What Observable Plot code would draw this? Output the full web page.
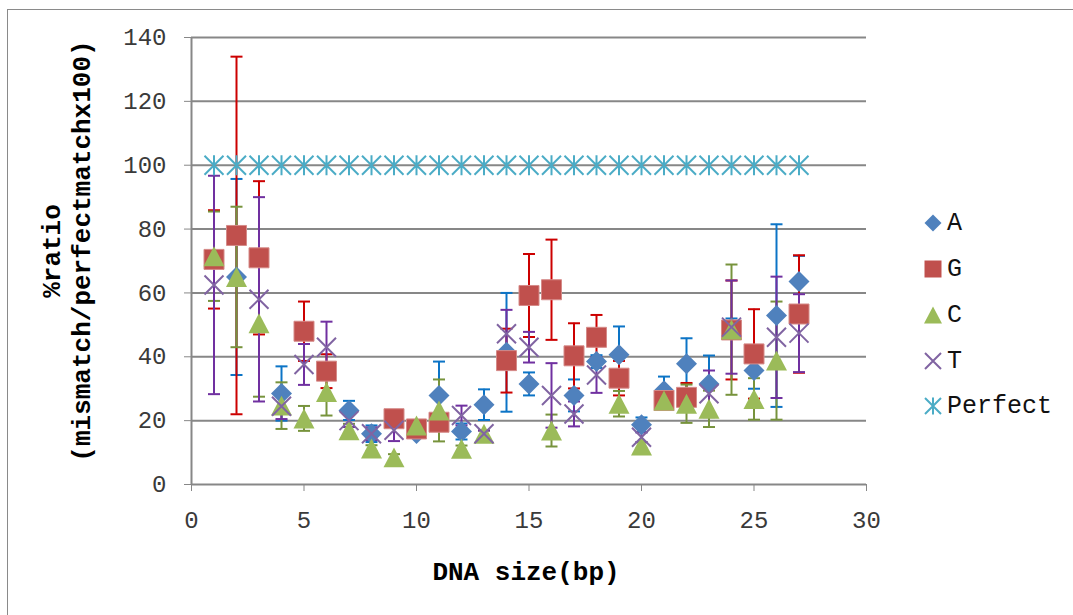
<!DOCTYPE html>
<html><head><meta charset="utf-8">
<script src="https://cdn.jsdelivr.net/npm/d3@7"></script>
<script src="https://cdn.jsdelivr.net/npm/@observablehq/plot@0.6"></script>
<style>
html,body{margin:0;padding:0;background:#fff;}
#wrap{position:relative;width:1073px;height:615px;overflow:hidden;font-family:"Liberation Mono","Courier New",monospace;}
#border{position:absolute;left:7px;top:9px;width:1200px;height:800px;border:1.5px solid #8a8a8a;pointer-events:none;}
#chart{position:absolute;left:0;top:0;}
.title{position:absolute;font-weight:bold;font-size:26px;color:#000;white-space:nowrap;}
#xt{left:526px;top:573px;transform:translate(-50%,-50%);}
#yt{left:68px;top:251px;transform:translate(-50%,-50%) rotate(-90deg);text-align:center;line-height:30px;}
.leg{position:absolute;display:flex;align-items:center;font-size:25px;color:#111;height:30px;}
.leg svg{margin-right:3px;}
</style></head>
<body><div id="wrap"><div id="chart"></div>
<div class="title" id="xt">DNA size(bp)</div>
<div class="title" id="yt">%ratio<br>(mismatch/perfectmatchx100)</div>
<div id="legend"></div>
<div id="border"></div></div>
<script>
// ---- data ----
const sizes = [1,2,3,4,5,6,7,8,9,10,11,12,13,14,15,16,17,18,19,20,21,22,23,24,25,26,27];
const seriesA = [null,65,null,28.5,null,null,23.2,15.9,null,16,27.9,16.6,25,41.4,31.5,null,27.9,38.5,40.6,18.7,29.4,37.8,31.5,49,35.7,52.9,63.6];
const errA    = [null,30.7,null,8.5,null,null,3,2.6,null,1,10.6,2.5,4.8,18.6,3.6,null,5,2,8.9,2.3,4.4,8,8.9,3,5.7,28.6,8];
const seriesG = [70.5,78,71,null,48,35.5,null,null,20.6,17.4,19.5,null,null,38.8,59.2,61,40.3,46.1,33.3,null,26.3,27.3,null,48.4,40.9,null,53.4];
const errG    = [15.4,56,24,null,9.3,5.3,null,null,1,1,1,null,null,10,13,15.7,10.2,7,5.4,null,2,4.5,null,15.5,14,null,18.4];
const seriesC = [71.5,65,50.5,24.7,20.7,29,17,11.3,8.5,18.5,23.2,11.2,15.9,null,null,16.9,null,null,25.3,12.2,26.3,25.3,23.7,48.5,26.8,38.8,null];
const errC    = [14,22,23,7.3,3.9,7.4,2,1,1,1,9.7,1,1,null,null,5,null,null,4,1,2,6,5.7,20.4,6.5,18.5,null];
const seriesT = [62.5,null,58,24.5,37.6,43,20,15.9,17,null,null,21.6,15.9,47.2,43,27.9,22.1,34.3,null,14.8,null,null,28.4,49.3,null,46.1,47.4];
const errT    = [34.2,null,32,4,6.4,8,2,2,3.4,null,null,3.1,1,7.5,4.8,10.1,3.9,5.6,null,1.5,null,null,7.3,14.6,null,19,12.2];
const seriesPerfect = [100,100,100,100,100,100,100,100,100,100,100,100,100,100,100,100,100,100,100,100,100,100,100,100,100,100,100];
const seriesNames = ["A","G","C","T","Perfect"];
const xTicks = [0,5,10,15,20,25,30];
const yTicks = [0,20,40,60,80,100,120,140];

// ---- symbols ----
const rad = size => Math.sqrt(size / Math.PI);
const diamond = {draw(c,s){const r=rad(s);c.moveTo(0,-r);c.lineTo(r,0);c.lineTo(0,r);c.lineTo(-r,0);c.closePath();}};
const square = {draw(c,s){const r=rad(s);c.rect(-r,-r,2*r,2*r);}};
const triangle = {draw(c,s){const r=rad(s);c.moveTo(0,-r*0.95);c.lineTo(r,r*0.95);c.lineTo(-r,r*0.95);c.closePath();}};
const cross = {draw(c,s){const r=rad(s);c.moveTo(-r,-r);c.lineTo(r,r);c.moveTo(r,-r);c.lineTo(-r,r);}};
const star = {draw(c,s){const r=rad(s);c.moveTo(-r,-r);c.lineTo(r,r);c.moveTo(r,-r);c.lineTo(-r,r);c.moveTo(0,-r*1.05);c.lineTo(0,r*1.05);}};
const cap = {draw(c,s){const r=rad(s);c.moveTo(-r,0);c.lineTo(r,0);}};

const styles = {
  A:{vals:seriesA, errs:errA, sym:diamond, fill:"#4F81BD", stroke:"none", err:"#0C74C6", r:10.5, lr:8.5},
  G:{vals:seriesG, errs:errG, sym:square, fill:"#C0504D", stroke:"#D58A88", err:"#CC0000", r:10, lr:8.5},
  C:{vals:seriesC, errs:errC, sym:triangle, fill:"#9BBB59", stroke:"none", err:"#77933C", r:10.5, lr:9},
  T:{vals:seriesT, errs:errT, sym:cross, fill:"none", stroke:"#8064A2", err:"#7030A0", r:9.5, lr:8},
  Perfect:{vals:seriesPerfect, errs:null, sym:star, fill:"none", stroke:"#4BACC6", err:null, r:9.5, lr:8}
};

const rows = {};
for (const n of seriesNames) {
  const st = styles[n];
  rows[n] = sizes.map((x,i)=>({x, y: st.vals[i], e: st.errs ? st.errs[i] : null}));
}

const marks = [
  Plot.gridY(yTicks.filter(d=>d>0), {stroke:"#878787", strokeOpacity:1, strokeWidth:2}),
  Plot.ruleY([0], {stroke:"#878787", strokeWidth:2}),
  Plot.ruleX([0], {stroke:"#878787", strokeWidth:2}),
  Plot.axisY({ticks:yTicks, tickSize:7, tickPadding:18, fontSize:24, stroke:"#878787", fill:"#3a3a3a", label:null}),
  Plot.axisX({ticks:xTicks, tickSize:7, tickPadding:19, fontSize:24, stroke:"#878787", fill:"#3a3a3a", label:null})
];
// error bars first
for (const n of seriesNames) {
  const st = styles[n];
  if (!st.errs) continue;
  const er = rows[n].filter(d=>d.y!=null && d.e!=null);
  marks.push(Plot.ruleX(er, {x:"x", y1:d=>d.y-d.e, y2:d=>d.y+d.e, stroke:st.err, strokeWidth:2}));
  marks.push(Plot.dot(er, {x:"x", y:d=>d.y-d.e, symbol:cap, r:6, stroke:st.err, strokeWidth:2, fill:"none"}));
  marks.push(Plot.dot(er, {x:"x", y:d=>d.y+d.e, symbol:cap, r:6, stroke:st.err, strokeWidth:2, fill:"none"}));
}
// markers
for (const n of seriesNames) {
  const st = styles[n];
  const pts = rows[n].filter(d=>d.y!=null);
  const lineSym = st.fill === "none";
  marks.push(Plot.dot(pts, {x:"x", y:"y", symbol:st.sym, r:st.r, fill:st.fill, stroke:st.stroke, strokeWidth: lineSym ? 2 : 1}));
}

const chart = Plot.plot({
  width:1073, height:615,
  marginLeft:191, marginRight:207, marginTop:37, marginBottom:131,
  style:{background:"transparent", fontFamily:"'Liberation Mono','Courier New',monospace"},
  x:{domain:[0,30], axis:null},
  y:{domain:[0,140], axis:null},
  marks
});
document.getElementById("chart").appendChild(chart);

// legend
const legend = document.getElementById("legend");
const legTop = [223,269,315,361,406];
seriesNames.forEach((n,i)=>{
  const st = styles[n];
  const div = document.createElement("div");
  div.className = "leg";
  div.style.left = "922px";
  div.style.top = (legTop[i]-15) + "px";
  const path = d3.symbol(st.sym, Math.PI*st.lr*st.lr)();
  const lineSym = st.fill === "none";
  div.innerHTML = `<svg width="22" height="22" viewBox="-11 -11 22 22"><path d="${path}" fill="${st.fill}" stroke="${lineSym?st.stroke:'none'}" stroke-width="2"/></svg><span>${n}</span>`;
  legend.appendChild(div);
});
</script></body></html>
